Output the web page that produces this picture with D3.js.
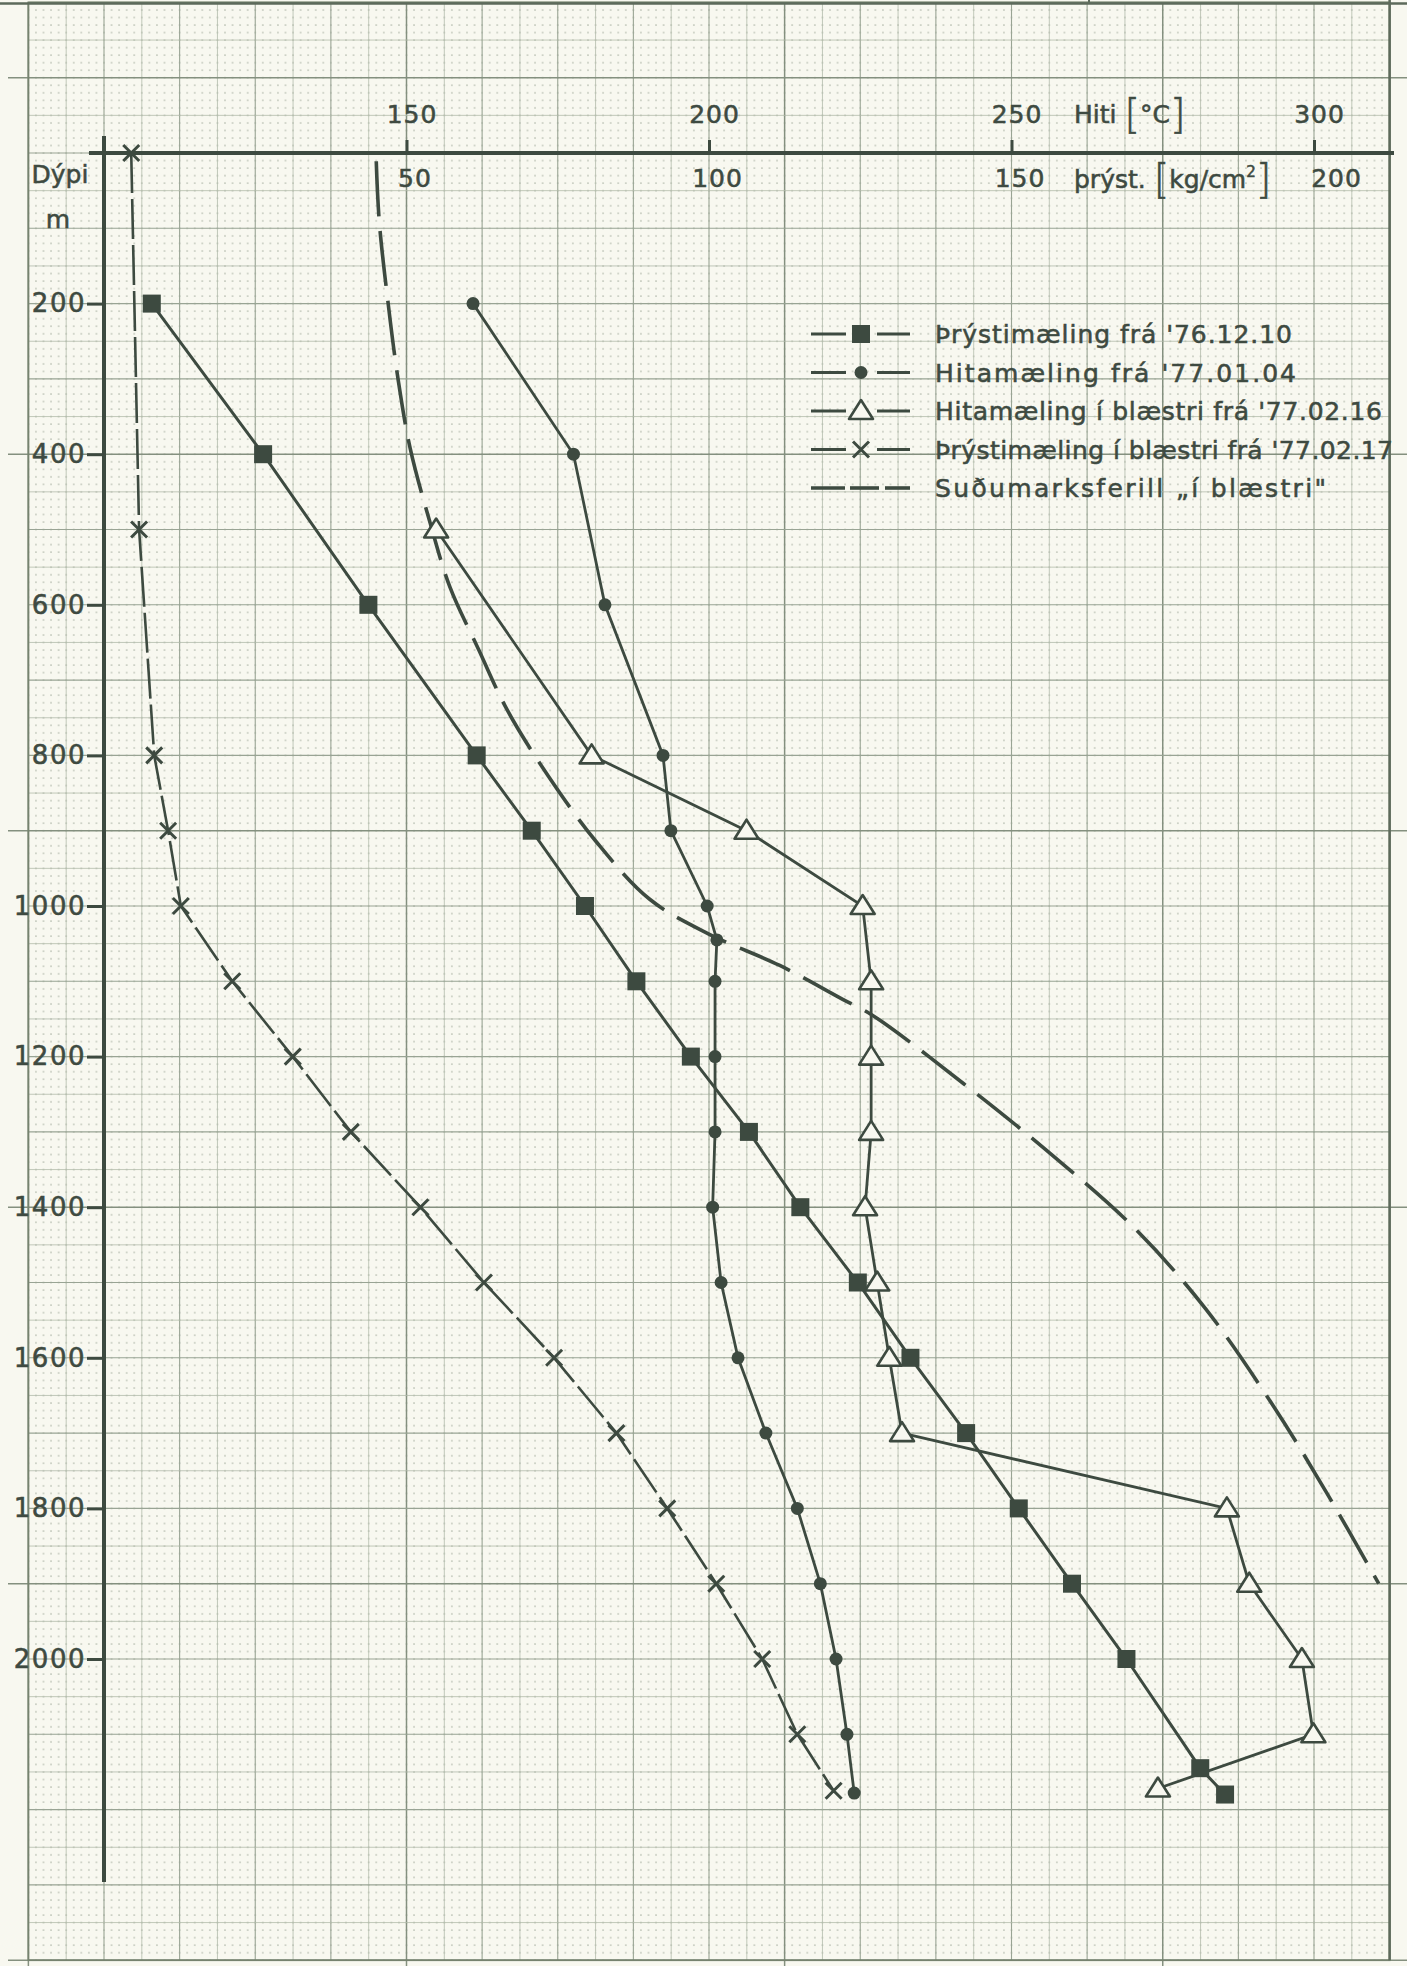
<!DOCTYPE html>
<html>
<head>
<meta charset="utf-8">
<script src="https://cdn.jsdelivr.net/npm/d3@7"></script>
<style>
body { margin: 0; background: #f8f8f0; }
svg { display: block; }
text { font-family: "DejaVu Sans", sans-serif; fill: #3e4a41; stroke: #3e4a41; stroke-width: 0.55px; }
</style>
</head>
<body>
<div id="chart"></div>
<script>
// Þrýstimæling frá '76.12.10  (kg/cm2)
var sqDepth = [200, 400, 600, 800, 900, 1000, 1100, 1200, 1300, 1400, 1500, 1600, 1700, 1800, 1900, 2000, 2145, 2180];
var sqPress = [7.9, 26.3, 43.7, 61.6, 70.7, 79.5, 88.0, 97.0, 106.6, 115.1, 124.6, 133.3, 142.5, 151.2, 160.0, 169.0, 181.2, 185.3];

// Hitamæling frá '77.01.04  (°C)
var dotDepth = [200, 400, 600, 800, 900, 1000, 1045, 1100, 1200, 1300, 1400, 1500, 1600, 1700, 1800, 1900, 2000, 2100, 2178];
var dotTemp = [161.0, 177.6, 182.8, 192.4, 193.7, 199.7, 201.3, 201.0, 201.0, 201.0, 200.6, 202.0, 204.8, 209.4, 214.6, 218.4, 221.0, 222.8, 224.0];

// Hitamæling í blæstri frá '77.02.16  (°C)
var triDepth = [500, 800, 900, 1000, 1100, 1200, 1300, 1400, 1500, 1600, 1700, 1800, 1900, 2000, 2100, 2172];
var triTemp = [154.9, 180.6, 206.2, 225.4, 226.8, 226.8, 226.8, 225.8, 227.8, 229.8, 231.9, 285.6, 289.3, 298.0, 299.9, 274.2];

// Þrýstimæling í blæstri frá '77.02.17  (kg/cm2)
var xDepth = [0, 500, 800, 900, 1000, 1100, 1200, 1300, 1400, 1500, 1600, 1700, 1800, 1900, 2000, 2100, 2175];
var xPress = [4.5, 5.8, 8.3, 10.6, 12.7, 21.2, 31.2, 40.8, 52.3, 62.8, 74.4, 84.7, 93.1, 101.2, 108.8, 114.6, 120.6];

// Suðumarksferill „í blæstri"  (°C)
var boilDepth = [11, 91, 202, 300, 392, 491, 577, 659, 739, 827, 915, 991, 1037, 1079, 1124, 1145, 1236, 1324, 1426, 1534, 1663, 1778, 1900];
var boilTemp = [145.0, 145.5, 147.0, 148.6, 150.6, 153.9, 157.2, 161.9, 166.6, 173.4, 181.4, 190.2, 199.9, 211.7, 222.1, 227.0, 242.1, 255.7, 270.1, 282.0, 293.2, 302.0, 310.7];

var tempTicks = [150, 200, 250, 300];
var pressTicks = [50, 100, 150, 200];
var depthTicks = [200, 400, 600, 800, 1000, 1200, 1400, 1600, 1800, 2000];

var legendLabels = [
    "Þrýstimæling frá '76.12.10",
    "Hitamæling frá '77.01.04",
    "Hitamæling í blæstri frá '77.02.16",
    "Þrýstimæling í blæstri frá '77.02.17",
    "Suðumarksferill „í blæstri\""
];
var legendMarks = ["square", "dot", "triangle", "cross", "dash"];

var width = 1407, height = 1966;
var ink = "#3d4a40";
var paper = "#f8f8f0";

var x = d3.scaleLinear().domain([100, 300]).range([104, 1314]);   // Hiti
var xp = d3.scaleLinear().domain([0, 200]).range([104, 1314]);    // þrýst
var y = d3.scaleLinear().domain([0, 2000]).range([153, 1659]);    // dýpi

var svg = d3.select("#chart").append("svg")
    .attr("width", width)
    .attr("height", height);

svg.append("rect").attr("width", width).attr("height", height).attr("fill", paper);

// graph paper: mm dots, 5 mm lines, 1 cm lines, 5 cm lines
var gLeft = x(87.5), gRight = x(312.5), gTop = y(-200), gBottom = y(2400);
var mmX = x(101.25) - x(100), mmY = y(10) - y(0);

var defs = svg.append("defs");
var pat = defs.append("pattern")
    .attr("id", "mm")
    .attr("patternUnits", "userSpaceOnUse")
    .attr("x", x(100) - mmX / 2)
    .attr("y", y(0) - mmY / 2)
    .attr("width", mmX)
    .attr("height", mmY);
pat.append("circle")
    .attr("cx", mmX / 2).attr("cy", mmY / 2).attr("r", 0.8)
    .attr("fill", "#aab2a3");

var grid = svg.append("g");
grid.append("rect")
    .attr("x", gLeft).attr("y", gTop)
    .attr("width", gRight - gLeft).attr("height", gBottom - gTop)
    .attr("fill", "url(#mm)");

function gridStyle(k) {
    var cm5 = k % 2 === 0 && (((k / 2) % 5) + 5) % 5 === 4;
    if (cm5) return {cm5: true, c: "#84907f", w: 1.5};
    if (k % 2 === 0) return {cm5: false, c: "#99a494", w: 1.1};
    return {cm5: false, c: "#b2bbab", w: 0.8};
}

d3.range(-2, 35).forEach(function(k) {
    var px = x(100 + k * 6.25);
    if (px < gLeft - 0.5 || px > gRight + 0.5) return;
    var s = gridStyle(k);
    grid.append("line")
        .attr("x1", px).attr("x2", px)
        .attr("y1", gTop).attr("y2", s.cm5 ? height : gBottom)
        .attr("stroke", s.c).attr("stroke-width", s.w);
});
d3.range(-4, 49).forEach(function(k) {
    var py = y(k * 50);
    if (py < gTop - 0.5 || py > gBottom + 0.5) return;
    var s = gridStyle(k);
    grid.append("line")
        .attr("x1", s.cm5 ? 8 : gLeft).attr("x2", s.cm5 ? width : gRight)
        .attr("y1", py).attr("y2", py)
        .attr("stroke", s.c).attr("stroke-width", s.w);
});
grid.append("rect")
    .attr("x", gLeft).attr("y", gTop)
    .attr("width", gRight - gLeft).attr("height", gBottom - gTop)
    .attr("fill", "none").attr("stroke", "#76836f").attr("stroke-width", 1.8);
grid.append("line")
    .attr("x1", gRight).attr("x2", gRight).attr("y1", 0).attr("y2", gBottom)
    .attr("stroke", "#5d6a5b").attr("stroke-width", 2.5);
grid.append("line")
    .attr("x1", 0).attr("x2", width).attr("y1", gTop + 1).attr("y2", gTop + 1)
    .attr("stroke", "#5d6a5b").attr("stroke-width", 2.5);
grid.append("line")
    .attr("x1", 1089).attr("x2", 1089).attr("y1", 0).attr("y2", gTop)
    .attr("stroke", "#5d6a5b").attr("stroke-width", 2);

// series
function pts(depths, vals, sc) {
    return depths.map(function(d, i) { return [sc(vals[i]), y(d)]; });
}
var line = d3.line();

var sqPts = pts(sqDepth, sqPress, xp);
var dotPts = pts(dotDepth, dotTemp, x);
var triPts = pts(triDepth, triTemp, x);
var xPts = pts(xDepth, xPress, xp);
var boilPts = pts(boilDepth, boilTemp, x);

svg.append("path")
    .attr("d", d3.line().curve(d3.curveCatmullRom.alpha(0.5))(boilPts))
    .attr("fill", "none").attr("stroke", ink)
    .attr("stroke-width", 3.6)
    .attr("stroke-dasharray", "55,15");

svg.append("path").attr("d", line(xPts))
    .attr("fill", "none").attr("stroke", ink)
    .attr("stroke-width", 2.6)
    .attr("stroke-dasharray", "40,6");

svg.append("path").attr("d", line(sqPts))
    .attr("fill", "none").attr("stroke", ink).attr("stroke-width", 3);

svg.append("path").attr("d", line(dotPts))
    .attr("fill", "none").attr("stroke", ink).attr("stroke-width", 2.8);

svg.append("path").attr("d", line(triPts))
    .attr("fill", "none").attr("stroke", ink).attr("stroke-width", 2.8);

// markers
function drawMark(g, type, px, py) {
    if (type === "square") {
        g.append("rect")
            .attr("x", px - 9).attr("y", py - 9)
            .attr("width", 18).attr("height", 18)
            .attr("fill", ink);
    } else if (type === "dot") {
        g.append("circle")
            .attr("cx", px).attr("cy", py).attr("r", 6.5)
            .attr("fill", ink);
    } else if (type === "triangle") {
        g.append("path")
            .attr("d", "M" + px + "," + (py - 11) + "L" + (px + 12) + "," + (py + 8) + "L" + (px - 12) + "," + (py + 8) + "Z")
            .attr("fill", paper).attr("stroke", ink).attr("stroke-width", 2.6)
            .attr("stroke-linejoin", "round");
    } else if (type === "cross") {
        g.append("path")
            .attr("d", "M" + (px - 8) + "," + (py - 8) + "L" + (px + 8) + "," + (py + 8) +
                       "M" + (px + 8) + "," + (py - 8) + "L" + (px - 8) + "," + (py + 8))
            .attr("stroke", ink).attr("stroke-width", 3);
    }
}
var marks = svg.append("g");
xPts.forEach(function(p) { drawMark(marks, "cross", p[0], p[1]); });
sqPts.forEach(function(p) { drawMark(marks, "square", p[0], p[1]); });
dotPts.forEach(function(p) { drawMark(marks, "dot", p[0], p[1]); });
triPts.forEach(function(p) { drawMark(marks, "triangle", p[0], p[1]); });

// axes
svg.append("line")
    .attr("x1", x(100)).attr("x2", x(100))
    .attr("y1", y(0) - 17).attr("y2", 1882)
    .attr("stroke", ink).attr("stroke-width", 4);
svg.append("line")
    .attr("x1", 89).attr("x2", 1394)
    .attr("y1", y(0)).attr("y2", y(0))
    .attr("stroke", ink).attr("stroke-width", 4);

var yAxis = svg.append("g")
    .attr("transform", "translate(" + x(100) + ",0)")
    .call(d3.axisLeft(y).tickValues(depthTicks).tickSize(17).tickPadding(1).tickFormat(d3.format("d")));
yAxis.select(".domain").remove();
yAxis.selectAll("line").attr("stroke", ink).attr("stroke-width", 3);
yAxis.selectAll("text")
    .style("font-size", "26px")
    .style("letter-spacing", "1.5px")
    .attr("fill", "#3e4a41");

var tAxis = svg.append("g")
    .attr("transform", "translate(0," + y(0) + ")")
    .call(d3.axisTop(x).tickValues(tempTicks).tickSize(13).tickPadding(17));
tAxis.select(".domain").remove();
tAxis.selectAll("line").attr("stroke", ink).attr("stroke-width", 3);
tAxis.selectAll("text")
    .attr("dx", 5)
    .style("font-size", "25px")
    .style("letter-spacing", "1px")
    .attr("fill", "#3e4a41");

var pAxis = svg.append("g")
    .attr("transform", "translate(0," + y(0) + ")")
    .call(d3.axisBottom(xp).tickValues(pressTicks).tickSize(0).tickPadding(16));
pAxis.select(".domain").remove();
pAxis.selectAll("text")
    .attr("dx", function(d) { return d === 200 ? 22 : 8; })
    .style("font-size", "25px")
    .style("letter-spacing", "1px")
    .attr("fill", "#3e4a41");

// axis titles
var t1 = svg.append("text").attr("x", 1074).attr("y", 123).style("font-size", "25px");
t1.append("tspan").text("Hiti ");
t1.append("tspan").attr("dy", 5).style("font-size", "40px").style("font-weight", "200").text("[");
t1.append("tspan").attr("dy", -5).text("°C");
t1.append("tspan").attr("dy", 5).style("font-size", "40px").style("font-weight", "200").text("]");

var t2 = svg.append("text").attr("x", 1074).attr("y", 188).style("font-size", "25px");
t2.append("tspan").text("þrýst. ");
t2.append("tspan").attr("dy", 5).style("font-size", "40px").style("font-weight", "200").text("[");
t2.append("tspan").attr("dy", -5).text("kg/cm");
t2.append("tspan").attr("dy", -11).style("font-size", "15px").text("2");
t2.append("tspan").attr("dy", 16).style("font-size", "40px").style("font-weight", "200").text("]");

svg.append("text").attr("x", 60).attr("y", 183)
    .attr("text-anchor", "middle").style("font-size", "25px").text("Dýpi");
svg.append("text").attr("x", 58).attr("y", 228)
    .attr("text-anchor", "middle").style("font-size", "25px").text("m");

// legend
var legendWidths = [357, 361, 447, 458, 391];
var legend = svg.append("g");
legendLabels.forEach(function(lab, i) {
    var ly = 334 + i * 38.5;
    if (legendMarks[i] === "dash") {
        [[811, 845], [850, 879], [885, 910]].forEach(function(s) {
            legend.append("line")
                .attr("x1", s[0]).attr("x2", s[1]).attr("y1", ly).attr("y2", ly)
                .attr("stroke", ink).attr("stroke-width", 3.6);
        });
    } else {
        [[811, 846], [877, 910]].forEach(function(s) {
            legend.append("line")
                .attr("x1", s[0]).attr("x2", s[1]).attr("y1", ly).attr("y2", ly)
                .attr("stroke", ink).attr("stroke-width", 3);
        });
        drawMark(legend, legendMarks[i], 861, ly);
    }
    legend.append("text")
        .attr("x", 935).attr("y", ly + 9)
        .attr("textLength", legendWidths[i])
        .attr("lengthAdjust", "spacing")
        .style("font-size", "25px")
        .text(lab);
});
</script>
</body>
</html>
